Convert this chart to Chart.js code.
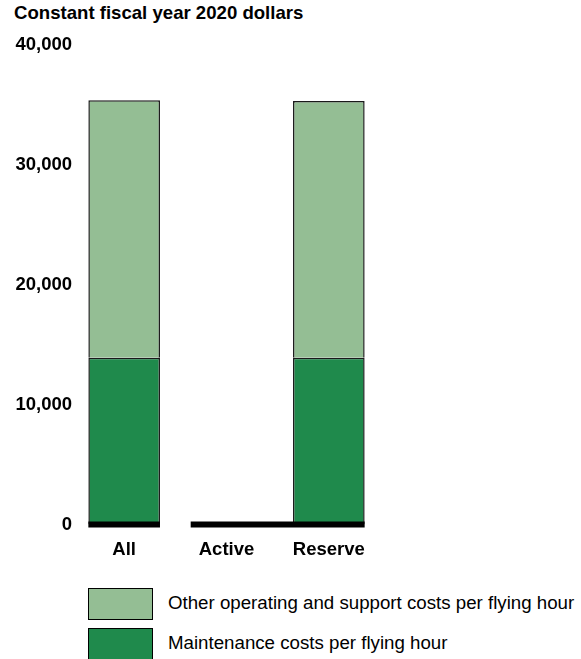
<!DOCTYPE html>
<html>
<head>
<meta charset="utf-8">
<script src="https://cdn.jsdelivr.net/npm/chart.js@4"></script>
<style>
  html, body { margin: 0; padding: 0; background: #fff; }
  body { width: 581px; height: 659px; position: relative; overflow: hidden; font-family: "Liberation Sans", Arial, sans-serif; }
  #title { position: absolute; left: 14px; top: 2px; font-weight: bold; font-size: 18.6px; line-height: 22px; color: #000; white-space: nowrap; }
  #wrap { position: absolute; left: 0; top: 0; width: 581px; height: 580px; }
  .lg-box { position: absolute; left: 88px; width: 63px; height: 30px; border: 1px solid #000; }
  .lg-text { position: absolute; left: 168px; font-size: 18.7px; line-height: 22px; color: #000; white-space: nowrap; }
</style>
</head>
<body>
<div id="title">Constant fiscal year 2020 dollars</div>
<div id="wrap"><canvas id="c" width="581" height="580"></canvas></div>
<div id="legend"></div>
<script>
const categories = ["All", "Active", "Reserve"];
const maintenanceCosts = [13900, 0, 13900];
const otherCosts = [21450, 0, 21400];
const seriesLabels = ["Maintenance costs per flying hour", "Other operating and support costs per flying hour"];
const yTicks = [0, 10000, 20000, 30000, 40000];

const darkGreen = "#1f8a4c";
const lightGreen = "#94be94";
const FONT = "'Liberation Sans', Arial, sans-serif";

const baselinePlugin = {
  id: "baseline",
  afterDatasetsDraw(chart) {
    const ctx = chart.ctx;
    const els = chart.getDatasetMeta(0).data;
    const y = chart.scales.y.getPixelForValue(0);
    const groups = [[0, 0], [1, 2]];
    ctx.save();
    ctx.fillStyle = "#000";
    groups.forEach(([a, b]) => {
      const l = els[a].x - els[a].width / 2;
      const r = els[b].x + els[b].width / 2;
      ctx.fillRect(l, y - 3, r - l, 6);
    });
    ctx.restore();
  }
};

new Chart(document.getElementById("c"), {
  type: "bar",
  data: {
    labels: categories,
    datasets: [
      { label: seriesLabels[0], data: maintenanceCosts, backgroundColor: darkGreen, borderColor: "#1a1a1a", borderWidth: 1.5, barPercentage: 0.7, categoryPercentage: 1 },
      { label: seriesLabels[1], data: otherCosts, backgroundColor: lightGreen, borderColor: "#1a1a1a", borderWidth: 1.5, barPercentage: 0.7, categoryPercentage: 1 }
    ]
  },
  options: {
    responsive: false,
    animation: false,
    layout: { padding: { top: 44.5, right: 201, bottom: 20, left: 0 } },
    plugins: { legend: { display: false }, tooltip: { enabled: false }, title: { display: false } },
    scales: {
      x: {
        stacked: true,
        grid: { display: false, drawTicks: false },
        border: { display: false },
        ticks: { color: "#000", padding: 14, font: { family: FONT, size: 18.5, weight: "bold" } },
        afterFit(s) { s.height = 35.5; }
      },
      y: {
        stacked: true,
        min: 0, max: 40000,
        grid: { display: false, drawTicks: false },
        border: { display: false },
        afterBuildTicks(s) { s.ticks = yTicks.map(v => ({ value: v })); },
        afterFit(s) { s.width = 73; },
        ticks: {
          color: "#000", padding: 1,
          font: { family: FONT, size: 18.5, weight: "bold" },
          callback: v => v.toLocaleString("en-US")
        }
      }
    }
  },
  plugins: [baselinePlugin]
});

// HTML legend built from the series labels (top: other costs, bottom: maintenance)
const legendItems = [
  { text: seriesLabels[1], color: lightGreen, top: 588 },
  { text: seriesLabels[0], color: darkGreen, top: 628 }
];
const lg = document.getElementById("legend");
legendItems.forEach(it => {
  const b = document.createElement("div");
  b.className = "lg-box";
  b.style.top = it.top + "px";
  b.style.background = it.color;
  lg.appendChild(b);
  const t = document.createElement("div");
  t.className = "lg-text";
  t.style.top = (it.top + 4) + "px";
  t.textContent = it.text;
  lg.appendChild(t);
});
</script>
</body>
</html>
